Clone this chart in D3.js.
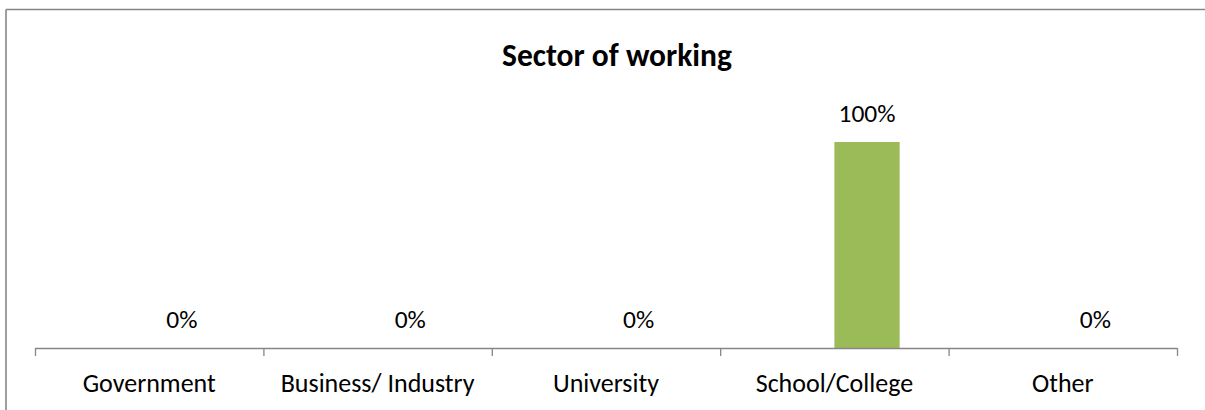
<!DOCTYPE html>
<html>
<head>
<meta charset="utf-8">
<script src="https://cdn.jsdelivr.net/npm/d3@7"></script>
<style>
  html, body { margin: 0; padding: 0; background: #fff; overflow: hidden; }
  svg { display: block; overflow: hidden; }
  text { font-family: Carlito, Calibri, Lato, "Open Sans", sans-serif; fill: #000; }
</style>
</head>
<body>
<svg id="chart" width="1205" height="410"></svg>
<script>
// Sector of working — share of respondents per sector
const categories = ["Government", "Business/ Industry", "University", "School/College", "Other"];
const seriesSlots = ["Series1", "Series2"];
const shareValues = [0, 0, 0, 100, 0];
const titleText = "Sector of working";

const svg = d3.select("#chart");
const W = 1205, H = 410;

// outer frame (only the top and left edges fall inside the page)
const frame = svg.append("g").attr("stroke", "#868686").attr("stroke-width", 1.6);
frame.append("line").attr("x1", 6).attr("x2", W).attr("y1", 9.5).attr("y2", 9.5);
frame.append("line").attr("x1", 6).attr("x2", 6).attr("y1", 9.5).attr("y2", H);

const plot = { left: 35, right: 1177, top: 142, bottom: 348 };

const x = d3.scaleBand()
  .domain(categories)
  .range([plot.left, plot.right])
  .paddingInner(0).paddingOuter(0);

// two series slots per category, gap of 150% of a bar width
const xs = d3.scaleBand()
  .domain(seriesSlots)
  .range([0, x.bandwidth()])
  .paddingInner(0).paddingOuter(0.75);

const y = d3.scaleLinear().domain([0, 100]).range([plot.bottom, plot.top]);

const data = categories.map((c, i) => ({ cat: c, value: shareValues[i] }));

// bars
svg.append("g").selectAll("rect")
  .data(data)
  .join("rect")
  .attr("x", d => x(d.cat) + xs("Series2"))
  .attr("y", d => y(d.value))
  .attr("width", xs.bandwidth())
  .attr("height", d => y(0) - y(d.value))
  .attr("fill", "#9BBB59");

// value labels
svg.append("g").selectAll("text")
  .data(data)
  .join("text")
  .attr("x", d => x(d.cat) + xs("Series2") + xs.bandwidth() / 2)
  .attr("y", d => y(d.value) - 20)
  .attr("text-anchor", "middle")
  .style("font-size", "25.5px")
  .text(d => d3.format(".0%")(d.value / 100));

// category axis: labels centred in each band, ticks on band boundaries
const axisG = svg.append("g").attr("transform", `translate(0,${plot.bottom})`);
axisG.call(d3.axisBottom(x).tickSize(0).tickPadding(0))
  .call(g => g.select(".domain").remove())
  .call(g => g.selectAll("text")
    .attr("dy", null)
    .attr("y", 44)
    .style("font-size", "26px")
    .style("font-family", null)
    .attr("fill", "#000"));

axisG.append("line")
  .attr("x1", plot.left).attr("x2", plot.right)
  .attr("y1", 0.5).attr("y2", 0.5)
  .attr("stroke", "#868686").attr("stroke-width", 1.3);

const boundaries = categories.map(c => x(c)).concat([plot.right]);
axisG.selectAll("line.tick-mark")
  .data(boundaries)
  .join("line")
  .attr("class", "tick-mark")
  .attr("x1", d => d + 0.5).attr("x2", d => d + 0.5)
  .attr("y1", 0).attr("y2", 8)
  .attr("stroke", "#868686").attr("stroke-width", 1.3);

// title
svg.append("text")
  .attr("x", 617).attr("y", 66)
  .attr("text-anchor", "middle")
  .style("font-size", "31.5px")
  .style("font-weight", "bold")
  .text(titleText);
</script>
</body>
</html>
